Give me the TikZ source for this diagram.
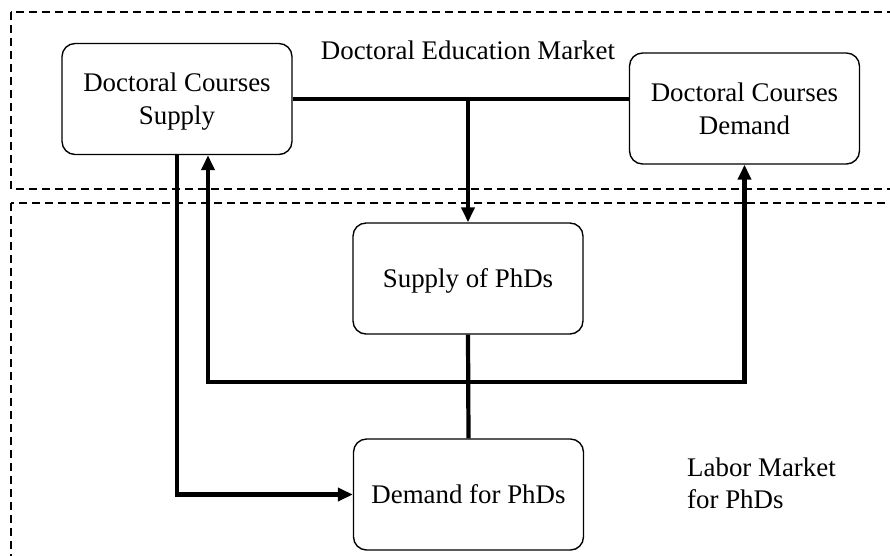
\documentclass[tikz,border=0pt]{standalone}
\usepackage{fontspec}
\setmainfont{Liberation Serif}
\usetikzlibrary{arrows.meta}

\tikzstyle{mercado}= [rectangle,draw,black,rounded corners=0.26cm,line width=0.8pt,minimum width=4.6cm,minimum height=2.22cm,align=center,text depth=0pt,font=\fontsize{15.3}{18.7}\selectfont]
\tikzstyle{zona}= [draw,black,line width=0.6pt,dash pattern=on 0.16cm off 0.1cm]
\tikzstyle{flujo}= [black,line width=2.4pt,-{Triangle[length=0.3cm,width=0.26cm]}]
\tikzstyle{enlace}= [black,line width=2.4pt]
\tikzstyle{rotulo}= [font=\fontsize{15.3}{18.4}\selectfont]

\begin{document}
\begin{tikzpicture}[x=0.02cm,y=-0.02cm]
		\useasboundingbox (0,0) rectangle (890,555);
		\clip (0,0) rectangle (890,555);

		\path[zona] (11,12) rectangle (900,189);
		\path[zona] (11,203) rectangle (900,570);

		\node (edu) at (468,59) [rotulo,anchor=base] {Doctoral Education Market};
		\node (lab) at (681,483) [rotulo,anchor=west,align=left] {Labor Market\\for PhDs};

		\node (ofcur) at (177,99) [mercado] {Doctoral Courses\\Supply};
		\node (demcur) at (744.5,108.5) [mercado] {Doctoral Courses\\Demand};
		\node (ofphd) at (468,278.5) [mercado] {Supply of PhDs};
		\node (demphd) at (468.5,494.5) [mercado] {Demand for PhDs};

		\coordinate (cruce) at (468,382);

		\path[enlace] (ofcur.east) edge (ofcur.east -| demcur.west);
		\draw[flujo] (ofcur.east -| ofphd.north) -- (ofphd.north);
		\draw[flujo] (ofcur.south) |- (demphd.west);
		\path[enlace] (ofphd.south) edge (demphd.north);
		\draw[flujo] (cruce) -| ([xshift=0.62cm]ofcur.south);
		\draw[flujo] (cruce) -| (demcur.south);

	\end{tikzpicture}
\end{document}
